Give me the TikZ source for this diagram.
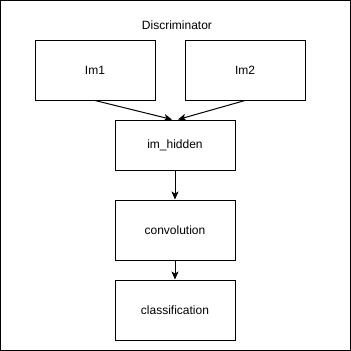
\documentclass[tikz,border=0pt]{standalone}
\usepackage{fontspec}
\setmainfont{Liberation Sans}
\usetikzlibrary{arrows.meta}
\begin{document}
\begin{tikzpicture}[x=1pt,y=-1pt,
  block/.style={draw=black,line width=1pt,fill=white,minimum width=120pt,inner sep=0pt,font=\fontsize{12}{14}\selectfont},
  link/.style={draw=black,line width=1pt,-{Stealth[length=8pt,width=7pt,inset=2pt]}}]
  % page frame
  \useasboundingbox (0,0) rectangle (351,351);
  \draw[line width=1.3pt] (0.65,0.65) rectangle (350.35,350.35);
  % title
  \node[font=\fontsize{12}{14}\selectfont] (title) at (177,25) {Discriminator};
  % blocks
  \node[block,minimum height=60pt] (im1) at (95,70) {Im1};
  \node[block,minimum height=60pt] (im2) at (245,70) {Im2};
  \node[block,minimum height=50pt] (hid) at (175,145) {im\_hidden};
  \node[block,minimum height=60pt] (conv) at (175,230) {convolution};
  \node[block,minimum height=60pt] (cls) at (175,310) {classification};
  % connectors
  \coordinate (hinL) at ([xshift=-3pt]hid.north);
  \coordinate (hinR) at ([xshift=3pt]hid.north);
  \draw[link] (im1.south) -- (hinL);
  \draw[link] (im2.south) -- (hinR);
  \draw[link] (hid.south) -- (conv.north);
  \draw[link] (conv.south) -- (cls.north);
\end{tikzpicture}
\end{document}
